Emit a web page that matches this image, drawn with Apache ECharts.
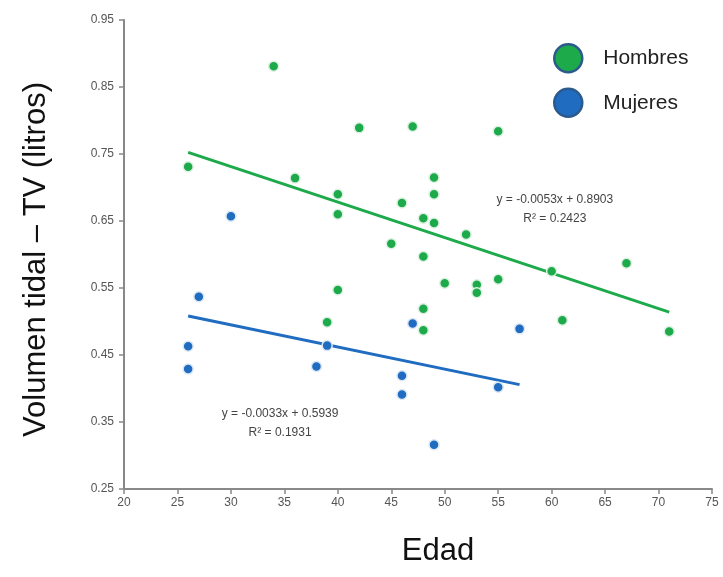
<!DOCTYPE html>
<html>
<head>
<meta charset="utf-8">
<script src="https://cdn.jsdelivr.net/npm/echarts@6/dist/echarts.min.js"></script>
<style>html,body{margin:0;padding:0;background:#fff}#c{width:723px;height:577px}</style>
</head>
<body>
<div id="c"></div>
<script>
const hombresEdad = [34, 26, 42, 47, 36, 40, 40, 46, 45, 55, 49, 49, 48, 49, 52, 48, 50, 53, 53, 55, 60, 67, 61, 71, 48, 48, 40, 39];
const hombresTV   = [0.881, 0.731, 0.789, 0.791, 0.714, 0.690, 0.660, 0.677, 0.616, 0.784, 0.715, 0.690, 0.654, 0.647, 0.630, 0.597, 0.557, 0.555, 0.543, 0.563, 0.575, 0.587, 0.502, 0.485, 0.519, 0.487, 0.547, 0.499];
const mujeresEdad = [30, 27, 26, 26, 39, 38, 46, 46, 47, 57, 55, 49];
const mujeresTV   = [0.657, 0.537, 0.463, 0.429, 0.464, 0.433, 0.419, 0.391, 0.497, 0.489, 0.402, 0.316];
const hombresTrendX = [26, 71];
const hombresTrendY = [0.7525, 0.5140];
const mujeresTrendX = [26, 57];
const mujeresTrendY = [0.5081, 0.4058];
const hombresEq = ['y = -0.0053x + 0.8903', 'R² = 0.2423'];
const mujeresEq = ['y = -0.0033x + 0.5939', 'R² = 0.1931'];
const yTicks = [0.25, 0.35, 0.45, 0.55, 0.65, 0.75, 0.85, 0.95];

const GREEN = '#1daa4b', BLUE = '#1f6cc0';
const zip = (a, b) => a.map((v, i) => [v, b[i]]);
const chart = echarts.init(document.getElementById('c'), null, {renderer: 'canvas'});
const font = 'Liberation Sans, Arial, sans-serif';
chart.setOption({
  animation: false,
  backgroundColor: '#fff',
  grid: {left: 124, right: 11, top: 20, bottom: 88, containLabel: false},
  legend: {
    orient: 'vertical', left: 548, top: 38, itemGap: 14, itemWidth: 28, itemHeight: 28,
    icon: 'circle',
    data: ['Hombres', 'Mujeres'],
    textStyle: {fontFamily: font, fontSize: 21, color: '#222', padding: [0, 0, 0, 16]},
    itemStyle: {borderColor: '#2c5a8c', borderWidth: 2.5}
  },
  xAxis: {
    type: 'value', min: 20, max: 75, interval: 5,
    name: 'Edad', nameLocation: 'middle', nameGap: 47,
    nameTextStyle: {fontFamily: font, fontSize: 31, color: '#111', padding: [0, 0, 0, 40]},
    axisLine: {lineStyle: {color: '#888', width: 2}},
    axisTick: {show: true, length: 5, lineStyle: {color: '#888', width: 1.5}},
    axisLabel: {fontFamily: font, fontSize: 12, color: '#555', margin: 8},
    splitLine: {show: false}
  },
  yAxis: {
    type: 'value', min: 0.25, max: 0.95, interval: 0.1,
    name: 'Volumen tidal – TV (litros)', nameLocation: 'middle', nameGap: 72,
    nameTextStyle: {fontFamily: font, fontSize: 31, color: '#111', padding: [0, 10, 0, 0]},
    axisLine: {show: true, lineStyle: {color: '#888', width: 2}},
    axisTick: {show: true, length: 5, lineStyle: {color: '#888', width: 1.5}},
    axisLabel: {fontFamily: font, fontSize: 12, color: '#555', margin: 10,
      formatter: v => { const t = yTicks.find(x => Math.abs(x - v) < 1e-6); return t !== undefined ? t.toFixed(2) : ''; }},
    splitLine: {show: false}
  },
  series: [
    {name: 'Hombres', type: 'line', data: zip(hombresTrendX, hombresTrendY), showSymbol: false, symbol: 'none',
     lineStyle: {color: GREEN, width: 3}, itemStyle: {color: GREEN}, z: 2},
    {name: 'Mujeres', type: 'line', data: zip(mujeresTrendX, mujeresTrendY), showSymbol: false, symbol: 'none',
     lineStyle: {color: BLUE, width: 3}, itemStyle: {color: BLUE}, z: 2},
    {name: 'Hombres', type: 'scatter', data: zip(hombresEdad, hombresTV), symbolSize: 10,
     itemStyle: {color: GREEN, borderColor: '#dff1e4', borderWidth: 1.5, opacity: 1}, z: 3},
    {name: 'Mujeres', type: 'scatter', data: zip(mujeresEdad, mujeresTV), symbolSize: 10,
     itemStyle: {color: BLUE, borderColor: '#dde8f5', borderWidth: 1.5, opacity: 1}, z: 3}
  ]
});
function eqGraphic() {
  const p1 = chart.convertToPixel({gridIndex: 0}, [60.3, 0.696]);
  const p2 = chart.convertToPixel({gridIndex: 0}, [34.6, 0.376]);
  const mk = (p, lines) => ({
    type: 'text', x: p[0], y: p[1],
    style: {text: lines.join('\n'), fill: '#444', font: '12px ' + font, align: 'center', verticalAlign: 'top', lineHeight: 19}
  });
  chart.setOption({graphic: [mk(p1, hombresEq), mk(p2, mujeresEq)]});
}
eqGraphic();
</script>
</body>
</html>
